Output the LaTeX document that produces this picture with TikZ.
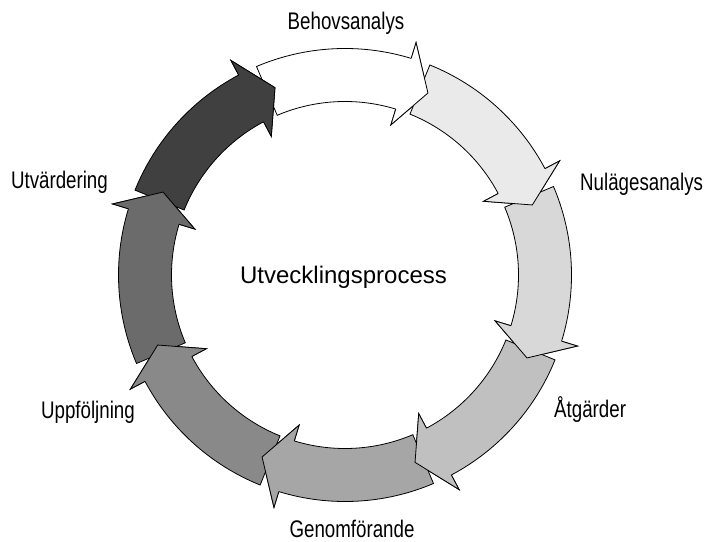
\documentclass[tikz,border=0pt]{standalone}
\usepackage{fontspec}
\setmainfont{Liberation Sans}
\newfontfamily\lblfont{Liberation Sans}[FakeStretch=0.78]
\definecolor{cA}{HTML}{FFFFFF}
\definecolor{cB}{HTML}{EAEAEA}
\definecolor{cC}{HTML}{D8D8D8}
\definecolor{cD}{HTML}{C0C0C0}
\definecolor{cE}{HTML}{A6A6A6}
\definecolor{cF}{HTML}{898989}
\definecolor{cG}{HTML}{6B6B6B}
\definecolor{cH}{HTML}{404040}
\begin{document}
\begin{tikzpicture}[x=1pt,y=1pt,
  arrowseg/.style={draw=black, line width=0.8pt, line join=miter},
  lbl/.style={font=\lblfont\fontsize{24}{28}\selectfont, inner sep=0pt},
  ctr/.style={font=\fontsize{24}{28}\selectfont, inner sep=0pt}]
\useasboundingbox (0,0) rectangle (708,541);
\begin{scope}[shift={(345,266)}]
  % bodies
  \foreach \k/\col in {0/cA,1/cB,2/cC,3/cD,4/cE,5/cF,6/cG,7/cH}{
    \pgfmathsetmacro\ta{113-45*\k}
    \pgfmathsetmacro\tb{\ta-40}
    \pgfmathsetmacro\tp{\ta-47.5}
    \filldraw[arrowseg, fill=\col]
      (\ta:226.5pt) arc[start angle=\ta, end angle=\tb, radius=226.5pt]
      -- (\tb:243pt) -- (\tp:200pt) -- (\tb:157pt) -- (\tb:173.5pt)
      arc[start angle=\tb, end angle=\ta, radius=173.5pt] -- cycle;
  }
  % heads on top of the following tails
  \foreach \k/\col in {0/cA,1/cB,2/cC,3/cD,4/cE,5/cF,6/cG,7/cH}{
    \pgfmathsetmacro\ta{113-45*\k}
    \pgfmathsetmacro\tb{\ta-40}
    \pgfmathsetmacro\tp{\ta-47.5}
    \fill[fill=\col] (\tb:226.5pt) -- (\tb:243pt) -- (\tp:200pt) -- (\tb:157pt) -- (\tb:173.5pt) -- cycle;
    \draw[arrowseg] (\tb:226.5pt) -- (\tb:243pt) -- (\tp:200pt) -- (\tb:157pt) -- (\tb:173.5pt);
  }
\end{scope}
\node[lbl, anchor=base] (behov) at (346,511) {Behovsanalys};
\node[lbl, anchor=base west] (nulage) at (580,350) {Nulägesanalys};
\node[lbl, anchor=base west] (atgard) at (554,124) {Åtgärder};
\node[lbl, anchor=base] (genom) at (352,4) {Genomförande};
\node[lbl, anchor=base east] (uppf) at (135,123) {Uppföljning};
\node[lbl, anchor=base east] (utv) at (108,352) {Utvärdering};
\node[ctr, anchor=base] (proc) at (343.5,258) {Utvecklingsprocess};
\end{tikzpicture}
\end{document}
